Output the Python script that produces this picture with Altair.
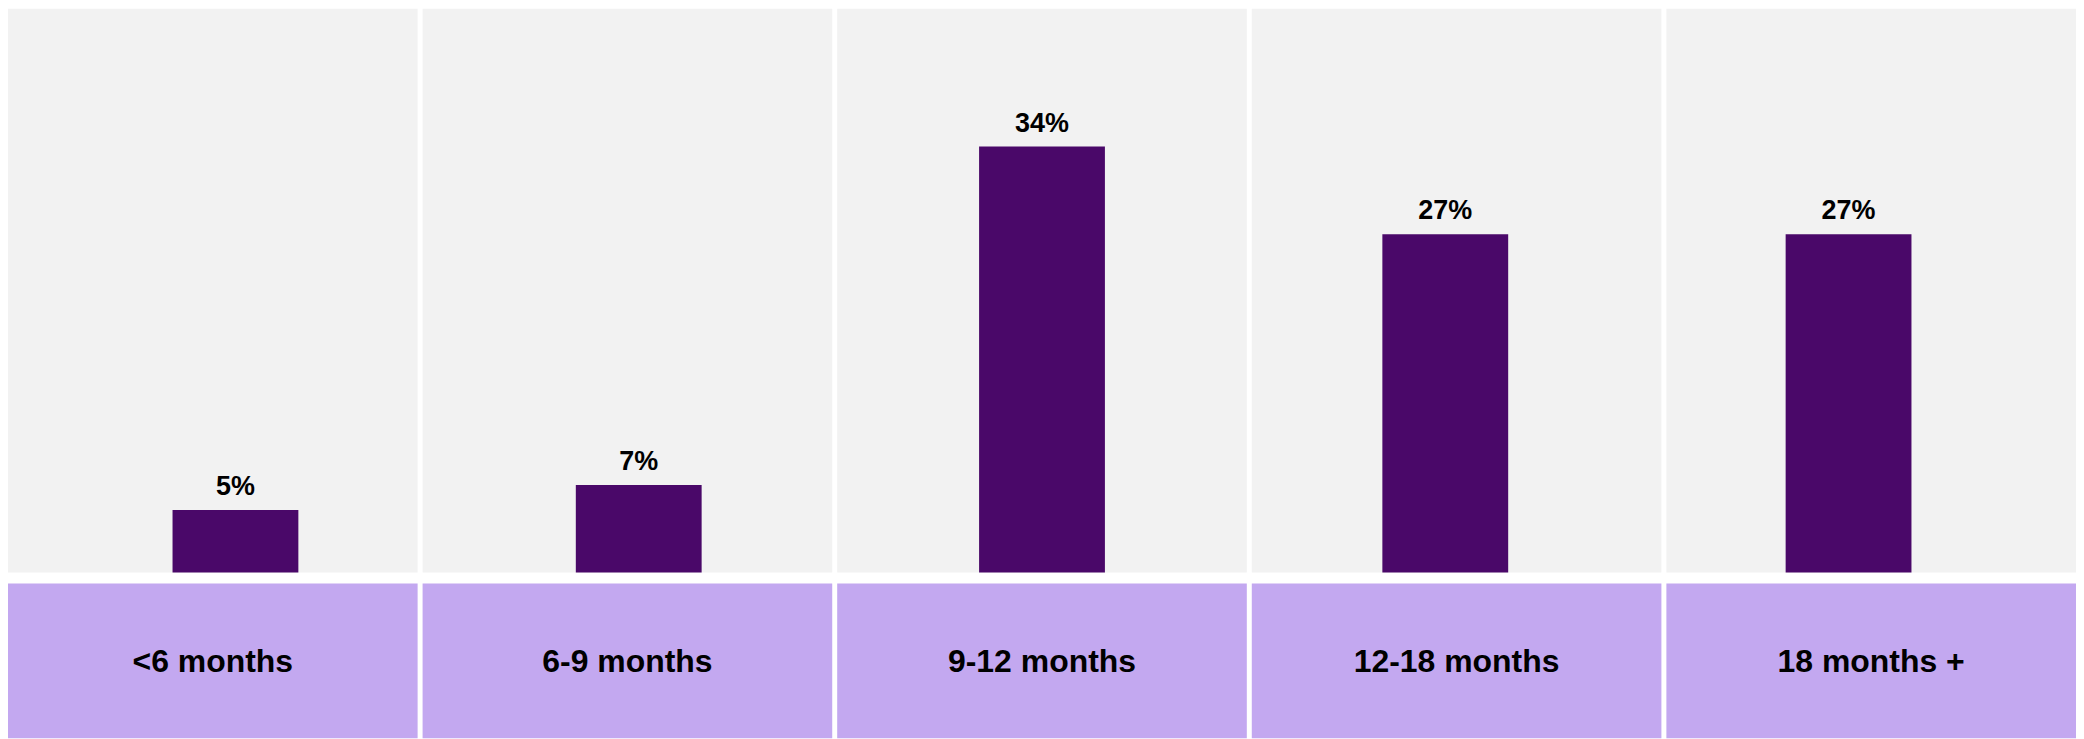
import altair as alt
import pandas as pd

categories = ["<6 months", "6-9 months", "9-12 months", "12-18 months", "18 months +"]
values = [5, 7, 34, 27, 27]
value_labels = ["5%", "7%", "34%", "27%", "27%"]

df = pd.DataFrame({"cat": categories, "val": values, "lab": value_labels})

W = 2072
TOP_H = 565
BOT_H = 155
FONT = "Liberation Sans"

panel_scale = alt.Scale(domain=categories, paddingInner=0.012, paddingOuter=0)
bar_scale = alt.Scale(domain=categories, paddingInner=0.688, paddingOuter=0.408)

base = alt.Chart(df)

gray = base.mark_rect(color="#f2f2f2").encode(
    x=alt.X("cat:N", scale=panel_scale, axis=None, sort=categories)
)

bars = base.mark_bar(color="#4a0869").encode(
    x=alt.X("cat:N", scale=bar_scale, axis=None, sort=categories),
    y=alt.Y("val:Q", scale=alt.Scale(domain=[0, 45], nice=False), axis=None),
)

text = base.mark_text(
    font=FONT, fontSize=27, fontWeight="bold", color="#000000",
    baseline="alphabetic", dy=-15, align="center"
).encode(
    x=alt.X("cat:N", scale=bar_scale, axis=None, sort=categories),
    y=alt.Y("val:Q", scale=alt.Scale(domain=[0, 45], nice=False), axis=None),
    text="lab:N",
)

top = alt.layer(gray, alt.layer(bars, text)).resolve_scale(x="independent").properties(
    width=W, height=TOP_H
)

purple = base.mark_rect(color="#c3a8f0").encode(
    x=alt.X("cat:N", scale=panel_scale, axis=None, sort=categories)
)

cat_text = base.mark_text(
    font=FONT, fontSize=32, fontWeight="bold", color="#000000",
    baseline="alphabetic", align="center"
).encode(
    x=alt.X("cat:N", scale=panel_scale, axis=None, sort=categories),
    y=alt.value(89),
    text="cat:N",
)

bottom = alt.layer(purple, cat_text).properties(width=W, height=BOT_H)

chart = alt.vconcat(top, bottom, spacing=11).properties(
    padding=0, background="#ffffff"
).configure_view(stroke=None)

chart.save("out.html", embed_options={"renderer": "svg", "actions": False})
